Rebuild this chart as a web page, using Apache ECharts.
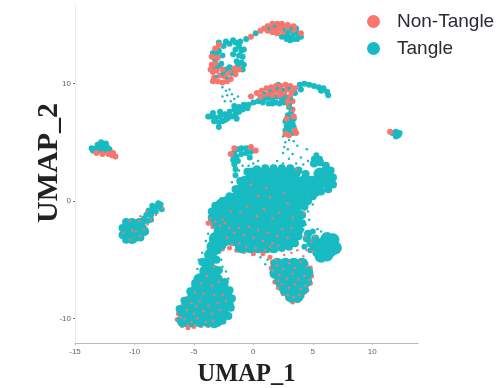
<!DOCTYPE html>
<html><head><meta charset="utf-8">
<style>html,body{margin:0;padding:0;background:#fff}#c{width:498px;height:388px}</style>
<script src="https://cdn.jsdelivr.net/npm/echarts@6/dist/echarts.min.js"></script>
</head><body><div id="c"></div>
<script>
const xTicks=[-15,-10,-5,0,5,10];
const yTicks=[-10,0,10];
const groups=['Non-Tangle','Tangle'];
const nonTangleRim=[[1.6,-5.2],[1.5,-5.7],[1.6,-6.3],[1.8,-6.9],[2.1,-7.4],[2.5,-7.9],[2.9,-8.3],[3.3,-8.6],[3.7,-8.5],[4.1,-8.1],[4.5,-7.6],[4.8,-7],[4.9,-6.4],[4.8,-5.7],[-6.3,-9.6],[-6.4,-10.1],[-6,-10.6],[-5.5,-10.8],[-5,-10.7],[-4.4,-10.6],[-3.8,-10.6],[-6,-9],[-5.6,-8.3],[-2.6,-4.1],[-2,-4],[-1.4,-4.2],[-0.8,-4.3],[0,-4.5],[0.8,-4.5],[1.4,-4.8],[-3.6,-1.7],[-3.8,-1.9],[-3.4,-2.2],[-3.1,-2.5],[-3.3,-3]];
const tangleCore=[
[-0.1,2.3],[0.6,2.3],[1.3,2.3],[2,2.3],[2.7,2.3],[3.4,2.3],[5.6,2.3],[6.2,2.3],
[-0.7,1.6],[0,1.6],[0.7,1.6],[1.4,1.6],[2.1,1.6],[2.8,1.6],[3.5,1.6],[4.2,1.6],[4.9,1.6],[5.6,1.6],[6.2,1.6],
[-1.1,0.9],[-0.4,0.9],[0.3,0.9],[1,0.9],[1.7,0.9],[2.4,0.9],[3.1,0.9],[3.8,0.9],[4.5,0.9],[5.2,0.9],
[-1.5,0.2],[-0.8,0.2],[-0.1,0.2],[0.6,0.2],[1.3,0.2],[2,0.2],[2.7,0.2],[3.4,0.2],[4.1,0.2],
[-2.8,-0.5],[-2.1,-0.5],[-1.4,-0.5],[-0.7,-0.5],[0,-0.5],[0.7,-0.5],[1.4,-0.5],[2.1,-0.5],[2.8,-0.5],[3.5,-0.5],
[-3,-1.2],[-2.3,-1.2],[-1.6,-1.2],[-0.9,-1.2],[-0.2,-1.2],[0.5,-1.2],[1.2,-1.2],[1.9,-1.2],[2.6,-1.2],[3.3,-1.2],[3.7,-1.2],
[-2.7,-1.9],[-2,-1.9],[-1.3,-1.9],[-0.6,-1.9],[0.1,-1.9],[0.8,-1.9],[1.5,-1.9],[2.2,-1.9],[2.9,-1.9],[3.5,-1.9],
[-2.8,-2.6],[-2.1,-2.6],[-1.4,-2.6],[-0.7,-2.6],[0,-2.6],[0.7,-2.6],[1.4,-2.6],[2.1,-2.6],[2.8,-2.6],[3.5,-2.6],
[-2.4,-3.3],[-1.7,-3.3],[-1,-3.3],[-0.3,-3.3],[0.4,-3.3],[1.1,-3.3],[1.8,-3.3],[2.5,-3.3],[3.2,-3.3],
[-1,-3.9],[-0.3,-3.9],[0.4,-3.9],[1.1,-3.9],[1.7,-3.9],
[-3.2,-3.2],[-3.4,-3.9],[-3.6,-4.6],[-3.8,-5.3],[-4,-6],[-3.3,-6],
[-4.5,-6.7],[-3.8,-6.7],[-3.1,-6.7],[-4.7,-7.4],[-4,-7.4],[-3.3,-7.4],[-2.6,-7.4],
[-5,-8.1],[-4.3,-8.1],[-3.6,-8.1],[-2.9,-8.1],[-2.3,-8.1],
[-5.4,-8.8],[-4.7,-8.8],[-4,-8.8],[-3.3,-8.8],[-2.6,-8.8],[-2.2,-8.8],
[-5.8,-9.5],[-5.1,-9.5],[-4.4,-9.5],[-3.7,-9.5],[-3,-9.5],[-2.6,-9.5],
[-5.9,-10.2],[-5.2,-10.2],[-4.5,-10.2],[-3.8,-10.2],[-3.1,-10.2],
[2,-5.4],[2.7,-5.4],[3.4,-5.4],[4.1,-5.4],[1.9,-6.1],[2.6,-6.1],[3.3,-6.1],[4,-6.1],[4.5,-6.1],
[2.3,-6.8],[3,-6.8],[3.7,-6.8],[4.4,-6.8],[2.7,-7.5],[3.4,-7.5],[4.1,-7.5],[3.2,-8.1],[3.7,-8.1],
[5.9,-3.6],[6.5,-3.6],[5.9,-4.2],[6.5,-4.2],[5.3,-3.9],[6.2,-3.2],[6.2,-4.6],[6.9,-4],[5.7,-4.7],[6.7,-3.3],
[-10.5,-2.2],[-9.9,-2.2],[-10.5,-2.9],[-9.9,-2.9],[-10.2,-2],[-9.4,-2.5],[-10.2,-3.1]
];
const tangleEdge=[
[-0.5,2.5],[0.3,2.7],[1,2.8],[1.7,2.8],[2.4,2.8],[3.1,2.8],[3.8,2.6],[4.4,2.3],[5.1,3.2],[5.6,3.3],[6.1,3],[6.5,2.6],
[6.7,2],[6.7,1.4],[6.3,1],[5.7,0.8],[5,0.4],[4.6,0],[4.3,-0.5],[4.1,-1.2],[4.1,-1.9],[3.9,-2.5],[3.8,-3],[3.5,-3.6],
[-1.1,1.7],[-1.5,1],[-2,0.4],[-2.6,0],[-3.2,-0.4],[-3.5,-0.9],[-3.5,-1.4],[-3.2,-1.9],[-2.2,0.1],[-2.8,-0.2],
[3,-3.9],[2.4,-4],[4.5,-3.2],[4.8,-3.6],[5.2,-3.2],[4.6,-2.8],[5.3,-4.4],[-4.3,-5.2],[-3.1,-5],[-3,-4.2],[-2.6,-3.8],[-2.9,-5.9],[-2.4,-6.9],[-2,-7.6],[-1.8,-8.3],[-1.9,-9.1],[-2.1,-9.8],[-2.6,-10.2],[-3.3,-10.5],[-4.9,-7],[-5.3,-7.7],[-5.8,-8.5],[-6.2,-9.2],
[-11,-2.3],[-11,-2.9],[-10.7,-3.3],[-9.5,-3.1],[-9.1,-2.6],[-10.7,-1.8],[-9.6,-1.8]
];
const tangleMid=[
[-3.4,12.6],[-3.1,12.5],[-2.9,12.8],[-2.5,13.2],[-2,13.4],[-1.5,13.5],[-1.2,13.2],[-1,12.8],[-0.9,12.3],[-1.2,12.4],[-1.5,12.9],[-1,11.8],[-1.4,11.9],[-1.3,11.5],[-2.7,11.7],[-2.9,11.5],[-2.3,11.2],[-2,11.4],[-1.7,11.1],[-2.5,10.9],[-3.2,11.4],[-0.8,11.6],[-2.6,12.4],[-1.7,12.5],[-3.2,12],[-0.9,11.2],[-0.8,12.9],[-1.1,13.6],[-1.7,13.7],[-2.3,13.6],[-2.9,13.5],[-1.4,11.2],
[-0.6,13.8],[0.2,14.3],[3,14.5],[3.4,14.3],[3.7,14.3],[4,14],[3.6,14.7],[2.9,14.1],[3.2,13.9],[2.7,14.2],[3.1,13.7],[2.3,14.9],[1.7,14.4],[3.7,13.8],[3.4,13.8],[2.8,13.8],[2.4,14],
[-3.6,7.2],[-3.2,7.1],[-2.8,7.2],[-2.4,7.4],[-2,7.6],[-1.6,7.8],[-3.3,6.8],[-2.9,6.7],[-2.9,6.3],[-2.6,6.8],[-2.2,7],[-1.8,7.2],[-1.4,7],[-3.4,7.5],[-2.8,7.6],[-1.2,8],[-0.8,8.2],[-0.4,8.2],[0,8.4],[-1.6,8.1],[-1.2,7.6],[-3.8,7.2],[-2.4,6.9],[-2,7.2],[-1.5,7.4],[-0.9,7.8],[-0.5,7.9],
[1.2,8.8],[1.6,8.7],[2,8.9],[2.4,8.7],[2.8,8.8],[0.4,8.5],[0.8,8.4],[1.9,8.4],[1.3,8.3],[3.9,9.9],[4.3,10],[4.7,9.9],[5.1,9.8],[5.5,9.7],[5.9,9.6],[6.2,9.3],[6.3,9],[5.7,9.4],[3.5,9.2],[4,9.5],[2.4,9.3],[2.1,9.9],[0.9,8.7],[1.6,8.3],[2.2,8.3],[2.6,8.4],
[3,8],[3.2,7.6],[2.9,7.3],[3.2,7.1],[3,6.8],[3.3,6.6],[2.8,6.4],[3.1,6.3],[3.4,6.3],[3,5.9],[2.7,6],[3.3,5.8],[2.7,6.8],[3.4,7],
[-1.7,3.9],[-1.6,4.2],[-1.3,4.4],[-1,4.5],[-0.6,4.5],[-1.4,3.8],[-1,4],[-0.6,4.1],[-1.7,3.5],[-1.3,3.4],[-0.2,4.2],[-0.3,3.7],[-1.6,3.1],[-1.5,2.7],[-1.5,2.2],
[5.3,3.9],[5.1,3.6],[5.6,3.6],
[11.9,5.7],[12.2,5.6],[12,5.9],[12.3,5.8],[11.7,5.8],[12,5.5],
[-13.5,4.3],[-13.2,4.5],[-12.9,4.7],[-12.6,4.8],[-12.3,4.6],[-12.1,4.4],[-13,4.3],[-12.7,4.4],[-12.4,4.3],[-12,4.1],[-12.8,5],[-12.4,4.9],[-13.1,4.8],[-13.6,4.5],
[-9.3,-1.9],[-8.9,-1.7],[-9,-1.2],[-8.6,-1.2],[-8.4,-0.8],[-8.1,-0.5],[-8,-0.2],[-7.8,-0.3],[-8.5,-0.4],[-9.2,-1.5],[-8.8,-0.8],[-8.2,-0.9],[-9.5,-2.1],[-8.6,-1.6],[-7.7,-0.7],
[4.8,-4.2],[4.3,-3.9],[5,-2.6]
];
const nonTangleMid=[
[-3.5,11.6],[-3.4,11],[-3.3,10.5],[-3,10.2],[-2.6,10.1],[-2.2,10.2],[-1.9,10.4],[-1.5,10.8],[-1.2,11.2],[-3.1,11.1],[-2.8,10.7],[-2.4,10.6],[-2,10.9],[-1.6,11.3],[-3.2,11.7],[-2.6,11.2],[-3,12.2],[-3.5,12.3],[-3.2,13],[-2.9,13.3],[-3.6,11.2],[-3.4,10.2],
[-0.2,14],[0.6,14.5],[0.9,14.7],[1.2,14.9],[1.6,15.1],[2,15.1],[2.4,15.1],[1.5,14.7],[1.9,14.7],[2.3,14.7],[2.7,14.9],[3,14.8],[3.4,14.6],[4,14.3],[2,14.3],[2.5,14.4],[1.2,14.5],[1.6,14.4],[2.9,15],[3.4,14.9],
[0.3,9.2],[0.7,9.4],[1.1,9.6],[1.5,9.7],[1.9,9.8],[2.3,9.8],[2.7,9.9],[3.1,9.8],[3.5,9.6],[0.6,8.9],[1,9.1],[1.4,9.2],[1.8,9.4],[2.2,9.4],[2.8,9.5],[3.2,9.3],[2.6,9.1],[3.1,8.9],[3.3,8.5],[-0.2,8.9],[3,8.2],[3.3,7.8],[2.9,8.5],[1.6,9],[2.2,9],
[3.4,7.2],[2.8,7],[2.7,5.7],[3.5,6],[3,5.6],[3.6,5.8],
[-1.9,4],[-1.6,4.5],[-0.2,4.6],[0.2,4.3],[11.5,5.9],
[-11.8,4.1],[-11.6,3.8],[-12.2,4],[-12.7,4],[-13.2,4.1],[-11.9,3.9]
];
const nonTangleSpecks=[
[-9.5,-1.3],[-9,-0.9],[-8.2,-1.2],[-7.6,-0.6],[-8.6,-1.6],[-9.2,-2.4],[-9.9,-2.6],[-10.4,-3.3],[-10.9,-2.7],[-10.4,-1.7],[-9.6,-1.7],[-10.2,-2.5],[-9.5,-3],[-8.9,-2],
[-3.6,-1.5],[-3.2,-1.8],[-2.8,-2.1],[-2.4,-1.9],[-2,-2.3],[-1.6,-2.7],[-1.2,-2.3],[-0.8,-2.9],[-0.4,-2.2],[0,-3.1],[0.4,-2.5],[0.8,-3.4],[1.2,-2.7],[1.6,-3.6],[2,-3],[2.4,-2.4],[-2.2,-3.1],[-1.8,-3.7],[-1.2,-3.6],[-0.6,-3.9],[0.2,-4],[1,-4.2],[1.4,-3.9],[2.1,-3.8],[2.9,-3.1],[3.2,-2.3],
[-1.1,-1],[-0.5,-0.5],[0.3,-1.3],[0.9,-0.7],[1.6,-1.5],[2.2,-1],[2.9,-0.2],[1.4,0.3],[0.4,0.4],[2.6,0.7],[-0.2,1.4],[1.1,1.1],[-1.9,-0.9],[3.3,-1.4],
[4.4,-3],[4.9,-3.5],[4.5,-4.2],[5,-4.3],[5.1,-3],[3.7,-4.2],[4.2,-4.7],[3.2,-4.4],[2.6,-4.6],
[2,-5.5],[2.5,-5.8],[3,-5.3],[3.5,-5.7],[4,-5.2],[4.5,-5.6],[2.2,-6.3],[2.8,-6.6],[3.3,-6.2],[3.8,-6.7],[4.3,-6.4],[4.7,-6.7],[2.4,-7.1],[3,-7.4],[3.5,-7.1],[4,-7.5],[4.4,-7.2],[2.9,-8],[3.4,-8.2],[3.9,-8],[1.9,-5],[1.6,-5.9],[2.1,-6.8],
[-3.3,-5.6],[-3.9,-6.4],[-4.4,-7],[-3.5,-7.2],[-2.9,-6.9],[-4.9,-7.8],[-4.2,-7.9],[-3.3,-8],[-2.6,-8],[-5.2,-8.7],[-4.5,-8.5],[-3.8,-8.9],[-3,-8.7],[-2.3,-8.5],[-5.6,-9.3],[-5,-9.6],[-4.2,-9.4],[-3.5,-9.6],[-2.8,-9.3],[-5.8,-10.1],[-5.2,-10.3],[-4.7,-10],[-4,-10.3],[-3.4,-10.2],[-6.1,-9.9],[-4.8,-9],[-5.5,-10.6],[-4.9,-10.6],
[3.6,2.7],[4.3,-1],[-3.6,-2],[-2.6,-1.6],[-3.9,-1.8]
];
const tangleOver=[
[-2.6,10.8],[-2.2,10.5],[-3.1,10.6],[-1.8,10.8],[-3,11.4],
[1.8,14.9],[2.6,14.6],[1.3,14.7],[3.2,14.7],
[1.4,9.4],[2,9.6],[2.5,9.5],[0.9,9.2],[3,9.6],[2.7,8.9],[3.2,8.7],[3.1,8.2],[3.2,7.9]
];
const tangleSpecks=[
[-2.6,9.7],[-2.3,9.4],[-2,9.5],[-2.2,9],[-1.8,9.1],[-1.6,8.7],[-1.3,8.9],[-2.6,8.9],[-1.9,8.5],[-2.4,8.5],
[2.5,5.5],[2.7,5],[3,5.2],[3.4,5.1],[2.6,4.6],[2.9,4.4],[3.7,4.7],[3.3,4],[2.5,4.1],[3,3.6],[4,3.7],[4.5,4.4],[2,3.4],[2.5,3.2],[3.6,3.2],[4.2,3.1],[4.6,3.4],[1.6,3],[3.2,2.9],
[-1.2,2.6],[-0.9,3],[-0.4,3],[0,3.2],[0.4,3.4],[-1.8,1.6],[-1.6,1],[-1.1,1.7],[0.9,3],
[4.6,-0.9],[4.7,-1.6],[5,-0.3],[4.4,-2],[4.6,-2.6],[5.4,-2.4],[5.7,-2.6],[4.2,-2.4],
[-3.8,-2.8],[-4,-3.4],[-4.3,-4.4],[-4.6,-5],[-4.7,-5.8],[-3.1,-4.5],[-2.7,-5],[-2.6,-5.6],[-2.3,-6],[-2.1,-6.6],[-4.9,-6.6],
[1.2,-5],[1,-5.4],[0.6,-4.8]
];
function s(name,data,size,color){return {name:name,type:'scatter',data:data,symbolSize:size,itemStyle:{color:color,opacity:1},silent:true};}
const red='#F8766D',teal='#17BBC1';
const chart=echarts.init(document.getElementById('c'),null,{renderer:'canvas'});
chart.setOption({
 animation:false,
 backgroundColor:'#fff',
 textStyle:{fontFamily:'"Liberation Sans",Arial,sans-serif'},
 legend:{show:true,orient:'vertical',left:362,top:7,itemWidth:13,itemHeight:13,itemGap:8,icon:'circle',
  data:groups,selectedMode:false,
  textStyle:{fontSize:19,color:'#2b2b33',fontFamily:'"Liberation Sans",Arial,sans-serif',padding:[0,0,0,12]}},
 grid:{left:75,right:80,top:5,bottom:45,outerBoundsMode:'none'},
 xAxis:{type:'value',min:-15,max:13.85,name:'UMAP_1',nameLocation:'middle',nameGap:19,
  nameTextStyle:{fontFamily:'"Liberation Serif",serif',fontWeight:'bold',fontSize:24.5,color:'#222'},
  splitLine:{show:false},
  axisLine:{onZero:false,lineStyle:{color:'#b8b8b8',width:1}},
  axisTick:{length:2,lineStyle:{color:'#bbb'},customValues:xTicks},
  axisLabel:{fontSize:8,color:'#666',margin:5,customValues:xTicks}},
 yAxis:{type:'value',min:-12.1,max:16.7,name:'UMAP_2',nameLocation:'middle',nameGap:11,nameMoveOverlap:false,
  nameTextStyle:{fontFamily:'"Liberation Serif",serif',fontWeight:'bold',fontSize:30,color:'#222',padding:[0,0,0,22]},
  splitLine:{show:false},
  axisLine:{onZero:false,lineStyle:{color:'#ececec',width:1}},
  axisTick:{length:2,lineStyle:{color:'#777'},customValues:yTicks},
  axisLabel:{fontSize:8,color:'#666',margin:4,customValues:yTicks}},
 series:[
  s(groups[0],nonTangleRim,5,red),
  s(groups[1],tangleCore,13,teal),
  s(groups[1],tangleEdge,8,teal),
  s(groups[1],tangleMid,6,teal),
  s(groups[0],nonTangleMid,6,red),
  s(groups[1],tangleOver,3.5,teal),
  s(groups[1],tangleSpecks,2.5,teal),
  s(groups[0],nonTangleSpecks,2.5,red)
 ]
});
</script></body></html>
